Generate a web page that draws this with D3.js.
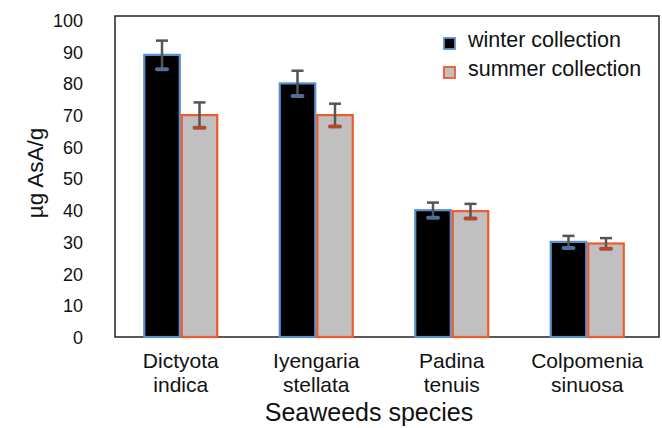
<!DOCTYPE html>
<html><head><meta charset="utf-8">
<script src="https://cdn.jsdelivr.net/npm/d3@7"></script>
<style>body{margin:0;background:#fff}svg{display:block}text{font-family:Arial,"Liberation Sans",sans-serif;fill:#111}</style>
</head><body><svg id="c" width="662" height="428"></svg>
<script>
const categories = [["Dictyota","indica"],["Iyengaria","stellata"],["Padina","tenuis"],["Colpomenia","sinuosa"]];
const seriesNames = ["winter collection","summer collection"];
const winter = [89, 80, 40, 30];
const summer = [70, 70, 39.7, 29.5];
const winterErr = [4.5, 4, 2.4, 1.9];
const summerErr = [4, 3.6, 2.3, 1.7];
const yTicks = [0,10,20,30,40,50,60,70,80,90,100];

const svg = d3.select("#c");
const frame = {l:115, r:659, t:16, b:337};
const y = d3.scaleLinear().domain([0,100]).range([337,20]);
const x = d3.scaleBand().domain(d3.range(categories.length)).range([113,655]);
const xs = d3.scaleBand().domain([0,1]).range([-37.5,37.5]);

const fills = ["#000000","#c0c0c0"], strokes = ["#5b8fd0","#ee5a2c"], capCols = ["#4f6e98","#b4482e"];
const series = [winter, summer], errs = [winterErr, summerErr];

svg.append("rect").attr("x",frame.l).attr("y",frame.t).attr("width",frame.r-frame.l).attr("height",frame.b-frame.t)
  .attr("fill","none").attr("stroke","#222").attr("stroke-width",1.5);

// y axis labels
const ya = svg.append("g").attr("transform","translate(93,0)").call(d3.axisLeft(y).tickValues(yTicks).tickSize(0).tickPadding(10));
ya.select(".domain").remove();
ya.selectAll("text").attr("font-size",18).style("font-family","Arial,'Liberation Sans',sans-serif").attr("fill","#111").attr("dy","0.36em");

series.forEach((vals,s)=>{
  const g = svg.append("g");
  vals.forEach((v,i)=>{
    const cx = x(i)+x.bandwidth()/2 + xs(s);
    g.append("rect").attr("x",cx+1).attr("y",y(v)).attr("width",xs.bandwidth()-2).attr("height",y(0)-y(v))
      .attr("fill",fills[s]).attr("stroke",strokes[s]).attr("stroke-width",2.2);
    const mx = cx + xs.bandwidth()/2;
    const e = errs[s][i];
    g.append("line").attr("x1",mx).attr("x2",mx).attr("y1",y(v+e)).attr("y2",y(v-e)).attr("stroke","#555").attr("stroke-width",2.5);
    g.append("line").attr("x1",mx-6).attr("x2",mx+6).attr("y1",y(v+e)).attr("y2",y(v+e)).attr("stroke","#555").attr("stroke-width",2.5);
    g.append("line").attr("x1",mx-5).attr("x2",mx+5).attr("y1",y(v-e)).attr("y2",y(v-e)).attr("stroke",capCols[s]).attr("stroke-width",4).attr("stroke-linecap","round");
  });
});

// x labels
categories.forEach((c,i)=>{
  const cx = x(i)+x.bandwidth()/2;
  const t = svg.append("text").attr("x",cx).attr("y",368).attr("text-anchor","middle").attr("font-size",21);
  t.append("tspan").attr("x",cx).text(c[0]);
  t.append("tspan").attr("x",cx).attr("dy",24).text(c[1]);
});
svg.append("text").attr("x",369).attr("y",421).attr("text-anchor","middle").attr("font-size",25).text("Seaweeds species");
svg.append("text").attr("transform","translate(43,173) rotate(-90)").attr("text-anchor","middle").attr("font-size",22.5).text("µg AsA/g");

// legend
seriesNames.forEach((n,s)=>{
  const ly = 38 + s*29;
  svg.append("rect").attr("x",444).attr("y",ly).attr("width",11).attr("height",11).attr("fill",fills[s]).attr("stroke",strokes[s]).attr("stroke-width",1.8);
  svg.append("text").attr("x",468).attr("y",ly+9).attr("font-size",21.5).text(n);
});
</script></body></html>
